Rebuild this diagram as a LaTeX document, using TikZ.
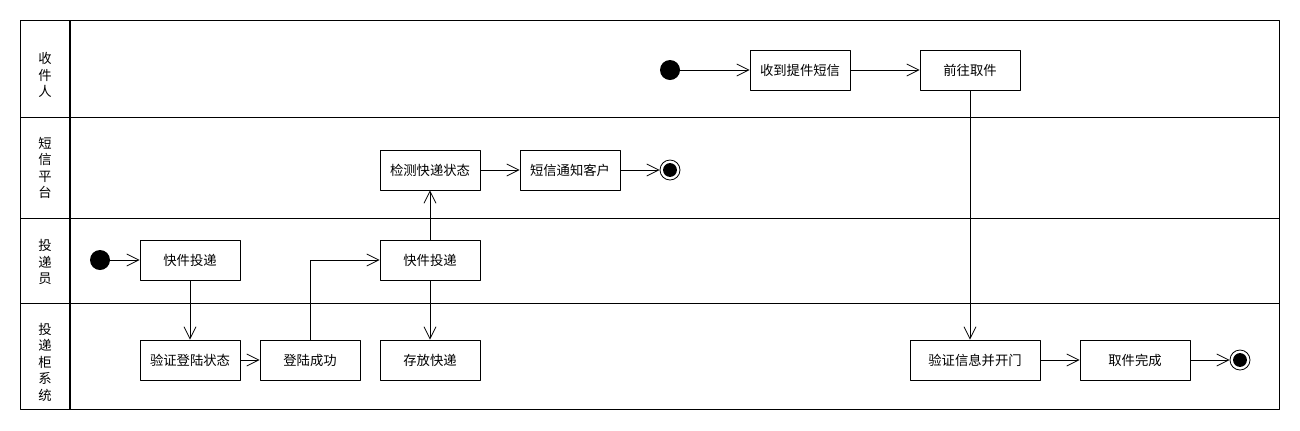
\documentclass[tikz,border=0pt]{standalone}
\usepackage{fontspec}
\newfontfamily\cjk{Noto Sans CJK SC}
\usetikzlibrary{arrows.meta,positioning}
\begin{document}
\begin{tikzpicture}[x=0.75pt, y=-0.75pt, >={Straight Barb[length=9pt,width=9pt]}, line join=round, line width=0.6pt,
		font=\cjk\fontsize{10}{12.4}\selectfont,
		act/.style={draw, minimum width=75pt, minimum height=30pt, inner sep=1pt},
		startdot/.style={circle, fill=black, minimum size=15pt, inner sep=0pt},
		enddot/.style={circle, draw, minimum size=15pt, inner sep=0pt,
			path picture={\fill (path picture bounding box.center) circle (5.2pt);}},
		lanename/.style={align=center, inner sep=0pt}]
				\def\xl{20} 
				\def\xr{1279}
				\def\yt{20} 
				\def\yb{409} 
				\useasboundingbox (0,0) rectangle (1300,430);
				% lanes
				\draw (\xl,\yt) rectangle (\xr,\yb);
				\draw (\xl,117)--(\xr,117) (\xl,218)--(\xr,218) (\xl,303)--(\xr,303);
				\draw [line width=1.5pt] (70,\yt)--(70,\yb);
				\node [lanename] (lRecv) at (45,75) {收\\件\\人};
				\node [lanename] (lSms) at (45,168) {短\\信\\平\\台};
				\node [lanename] (lCourier) at (45,262) {投\\递\\员};
				\node [lanename] (lLocker) at (45,362) {投\\递\\柜\\系\\统};
				% activities
				\node [startdot] (recvStart) at (670,70) {};
				\node [act] (recvSms) at (800,70) {收到提件短信};
				\node [act] (goPick) at (970,70) {前往取件};
				\node [act] (check) at (430,170) {检测快递状态};
				\node [act] (notify) at (570,170) {短信通知客户};
				\node [enddot] (smsEnd) at (670,170) {};
				\node [startdot] (courStart) at (100,260) {};
				\node [act] (deliv) at (190,260) {快件投递};
				\node [act] (deliv2) at (430,260) {快件投递};
				\node [act] (verLogin) at (190,360) {验证登陆状态};
				\node [act] (loginOk) at (310,360) {登陆成功};
				\node [act] (store) at (430,360) {存放快递};
				\node [act, minimum width=97.5pt] (verOpen) at (975,360) {验证信息并开门};
				\node [act, minimum width=82.5pt] (done) at (1135,360) {取件完成};
				\node [enddot] (lockEnd) at (1240,360) {};
				% flows
				\draw [->] (recvStart)--(recvSms);
				\draw [->] (recvSms)--(goPick);
				\draw [->] (goPick.south)--(goPick.south |- verOpen.north);
				\draw [->] (check)--(notify);
				\draw [->] (notify)--(smsEnd);
				\draw [->] (courStart)--(deliv);
				\draw [->] (deliv)--(verLogin);
				\draw [->] (verLogin)--(loginOk);
				\draw [->] (loginOk.north) |- (deliv2.west);
				\draw [->] (deliv2)--(check);
				\draw [->] (deliv2)--(store);
				\draw [->] (verOpen)--(done);
				\draw [->] (done)--(lockEnd);
\end{tikzpicture}
\end{document}
